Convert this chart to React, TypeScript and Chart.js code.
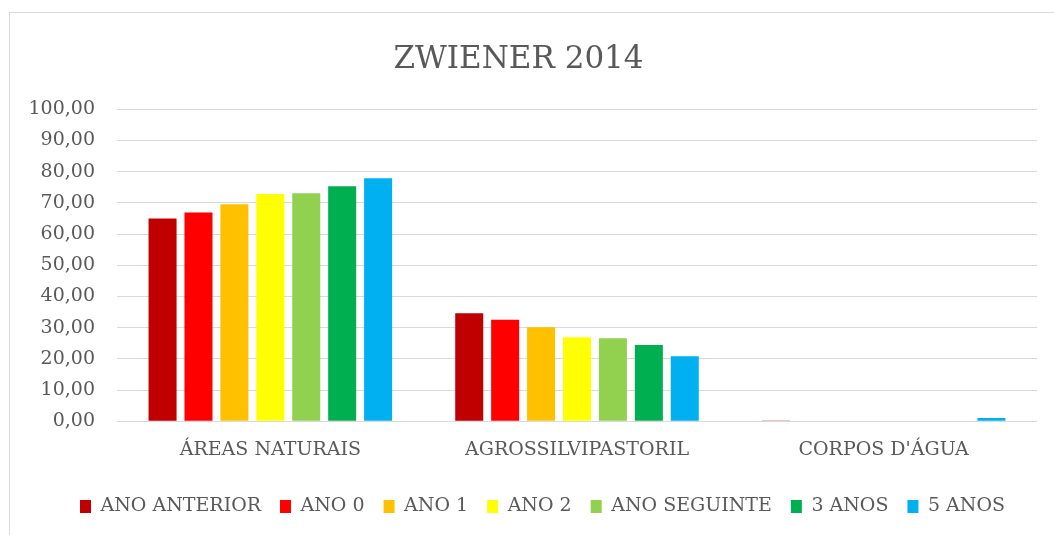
import React, { useEffect, useRef } from "react";
import { Chart, registerables } from "chart.js";

Chart.register(...registerables);

const categories = ["ÁREAS NATURAIS", "AGROSSILVIPASTORIL", "CORPOS D'ÁGUA"];
const seriesNames = ["ANO ANTERIOR", "ANO 0", "ANO 1", "ANO 2", "ANO SEGUINTE", "3 ANOS", "5 ANOS"];
const anoAnterior = [65.0, 34.6, 0.25];
const ano0 = [66.9, 32.5, 0];
const ano1 = [69.5, 30.1, 0];
const ano2 = [72.8, 26.9, 0];
const anoSeguinte = [73.1, 26.6, 0];
const tresAnos = [75.3, 24.4, 0];
const cincoAnos = [77.9, 20.8, 1.0];
const seriesColors = ["#C00000", "#FF0000", "#FFC000", "#FFFF00", "#92D050", "#00B050", "#00B0F0"];
const yTicks = [0, 10, 20, 30, 40, 50, 60, 70, 80, 90, 100];

const FONT = "'DejaVu Serif', serif";
const TEXT = "#595959";

const legendShift = {
  id: "legendShift",
  afterLayout(chart: any) {
    const lg = chart.legend;
    if (lg) {
      lg.left += 24;
      lg.right += 24;
    }
  },
};

export default function App() {
  const ref = useRef<HTMLCanvasElement | null>(null);
  useEffect(() => {
    if (!ref.current) return;
    const values = [anoAnterior, ano0, ano1, ano2, anoSeguinte, tresAnos, cincoAnos];
    const chart = new Chart(ref.current, {
      type: "bar",
      data: {
        labels: categories,
        datasets: seriesNames.map((name, i) => ({
          label: name,
          data: values[i],
          backgroundColor: seriesColors[i],
          borderWidth: 0,
          categoryPercentage: 0.82,
          barPercentage: 0.78,
        })),
      },
      plugins: [legendShift],
      options: {
        animation: false,
        responsive: false,
        maintainAspectRatio: false,
        layout: { padding: { left: 0, right: 17, top: 0, bottom: 9 } },
        plugins: {
          title: {
            display: true,
            text: "ZWIENER 2014",
            color: TEXT,
            font: { family: FONT, size: 31, weight: "normal" },
            padding: { top: 41, bottom: 31 },
          },
          legend: {
            position: "bottom",
            labels: {
              color: TEXT,
              font: { family: FONT, size: 19 },
              boxWidth: 11,
              boxHeight: 13,
              padding: 19,
            },
          },
          tooltip: { enabled: false },
        },
        scales: {
          x: {
            grid: { display: false, drawTicks: false },
            border: { display: false },
            ticks: { color: TEXT, font: { family: FONT, size: 19 }, padding: 17 },
          },
          y: {
            min: 0,
            max: 100,
            afterBuildTicks: (axis: any) => {
              axis.ticks = yTicks.map((v) => ({ value: v }));
            },
            afterFit: (axis: any) => {
              axis.width = 117;
            },
            grid: { color: "#d9d9d9", lineWidth: 1, drawTicks: false },
            border: { display: false },
            ticks: {
              color: TEXT,
              font: { family: FONT, size: 19 },
              padding: 22,
              callback: (v: any) => Number(v).toFixed(2).replace(".", ","),
            },
          },
        },
      },
    });
    return () => chart.destroy();
  }, []);
  return (
    <div style={{ position: "absolute", left: 0, top: 0, width: 1054, height: 535, overflow: "hidden", background: "#fff" }}>
      <div style={{ position: "absolute", left: 9, top: 12, width: 1100, height: 600, border: "1px solid #d9d9d9", boxSizing: "border-box" }} />
      <canvas ref={ref} width={1054} height={535} style={{ position: "absolute", left: 0, top: 0 }} />
    </div>
  );
}
